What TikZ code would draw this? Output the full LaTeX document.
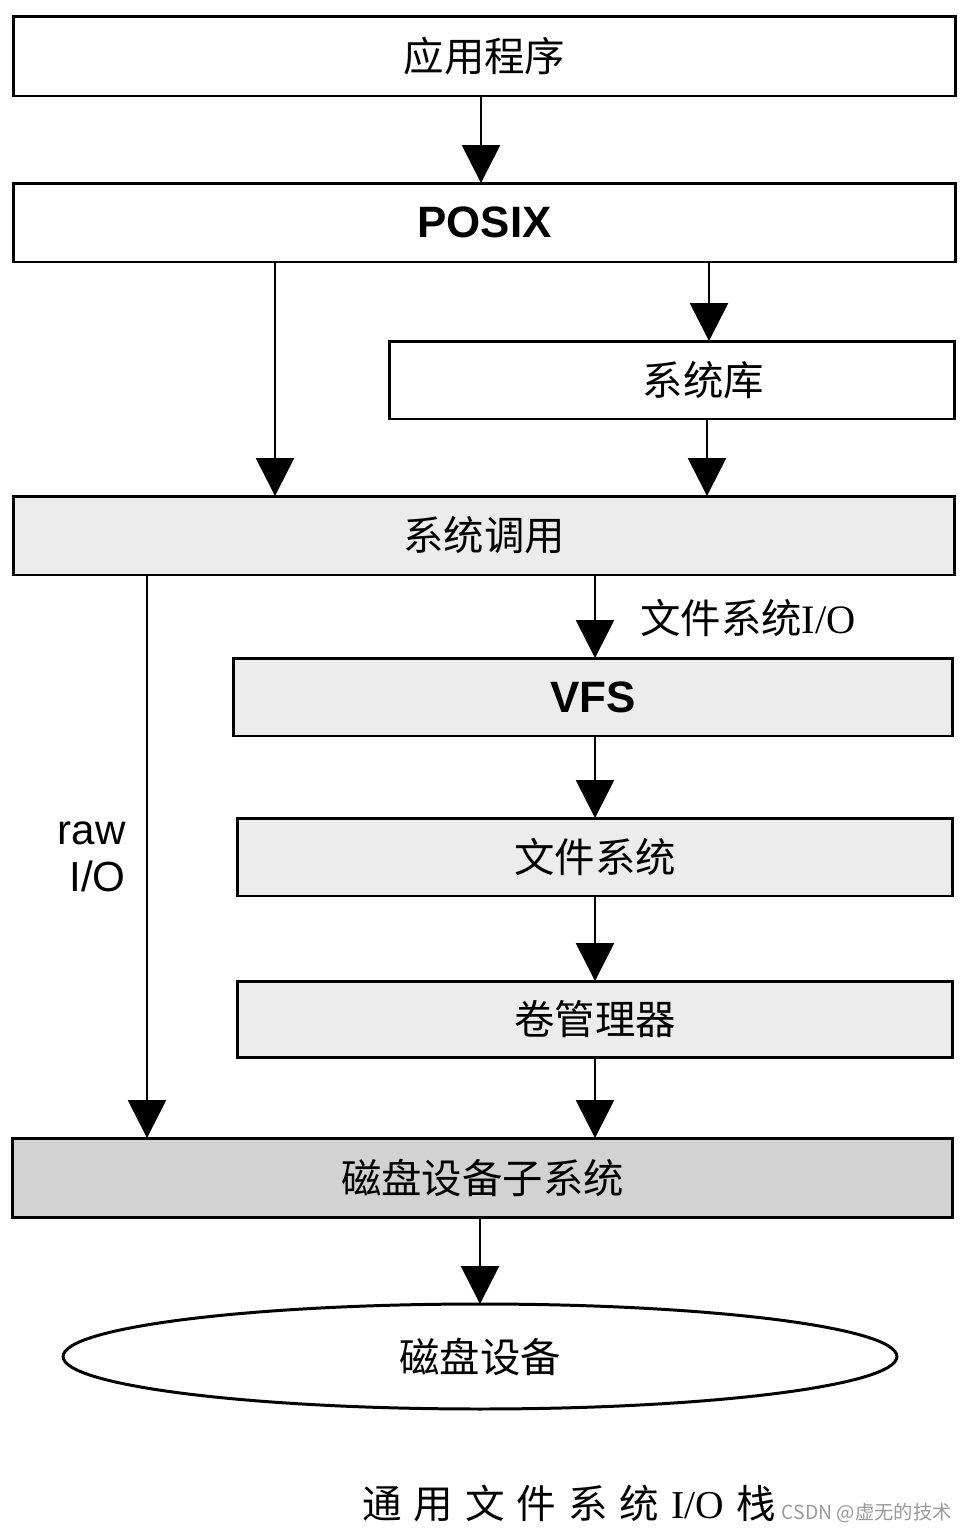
\documentclass[tikz,border=0pt]{standalone}
\usepackage{fontspec}
\setmainfont{Liberation Sans}
\newfontfamily\cjk{Noto Sans CJK SC}
\newfontfamily\serifI{Liberation Serif}
\usetikzlibrary{arrows.meta,shapes.geometric}
\definecolor{lightfill}{HTML}{ECECEC}
\definecolor{darkfill}{HTML}{D2D2D2}
\definecolor{wmark}{HTML}{9A9A9A}
\begin{document}
\begin{tikzpicture}[x=0.02cm,y=-0.02cm,
  box/.style={draw, line width=1.7pt, rectangle, inner sep=0pt, outer sep=0pt,
    font=\cjk\fontsize{23}{28}\selectfont},
  latin/.style={font=\bfseries\fontsize{25}{30}\selectfont},
  arr/.style={line width=1.6pt, -{Triangle[width=0.76cm,length=0.76cm]}}]
\useasboundingbox (0,0) rectangle (966,1532);
\fill[white] (0,0) rectangle (966,1532);

\node[box, minimum width=18.86cm, minimum height=1.6cm] (app) at (484.5,56) {应用程序};
\node[box, latin, minimum width=18.86cm, minimum height=1.58cm] (posix) at (484.5,222.5) {POSIX};
\node[box, minimum width=11.32cm, minimum height=1.56cm] (lib) at (672,380) {\hspace{1.25cm}系统库};
\node[box, fill=lightfill, minimum width=18.84cm, minimum height=1.58cm] (sys) at (484,535.5) {系统调用};
\node[box, latin, fill=lightfill, minimum width=14.4cm, minimum height=1.56cm] (vfs) at (593,697) {VFS};
\node[box, fill=lightfill, minimum width=14.32cm, minimum height=1.56cm] (fs) at (595,857) {文件系统};
\node[box, fill=lightfill, minimum width=14.32cm, minimum height=1.52cm] (vol) at (595,1019) {卷管理器};
\node[box, fill=darkfill, minimum width=18.82cm, minimum height=1.58cm] (sub) at (482.5,1177.5) {磁盘设备子系统};
\node[box, ellipse, minimum width=16.68cm, minimum height=2.1cm] (disk) at (480,1356.5) {磁盘设备};

\coordinate (c481) at (481,0);
\coordinate (c275) at (275,0);
\coordinate (c709) at (709,0);
\coordinate (c707) at (707,0);
\coordinate (c595) at (595,0);
\coordinate (c147) at (147,0);
\coordinate (c480) at (480,0);

\draw[arr] (app.south -| c481) -- (posix.north -| c481);
\draw[arr] (posix.south -| c275) -- (sys.north -| c275);
\draw[arr] (posix.south -| c709) -- (lib.north -| c709);
\draw[arr] (lib.south -| c707) -- (sys.north -| c707);
\draw[arr] (sys.south -| c595) -- (vfs.north -| c595);
\draw[arr] (vfs.south -| c595) -- (fs.north -| c595);
\draw[arr] (fs.south -| c595) -- (vol.north -| c595);
\draw[arr] (vol.south -| c595) -- (sub.north -| c595);
\draw[arr] (sys.south -| c147) -- (sub.north -| c147);
\draw[arr] (sub.south -| c480) -- (disk.north);

\node[anchor=west, inner sep=0pt, font=\cjk\fontsize{23}{27}\selectfont] (lblfs) at (640,618) {文件系统{\serifI I/O}};
\node[anchor=east, align=right, inner sep=0pt, font=\fontsize{24}{27}\selectfont] (lblraw) at (126,857) {raw\\I/O};

\node[anchor=east, inner sep=0pt, font=\cjk\fontsize{22.5}{26}\selectfont] (cap) at (776,1503)
  {通\hspace{0.24cm}用\hspace{0.24cm}文\hspace{0.24cm}件\hspace{0.24cm}系\hspace{0.24cm}统\hspace{0.24cm}{\serifI I/O}\hspace{0.24cm}栈};
\node[anchor=east, inner sep=0pt, text=wmark, font=\cjk\fontsize{11}{13}\selectfont] (wm) at (952,1513) {CSDN @虚无的技术};
\end{tikzpicture}
\end{document}
